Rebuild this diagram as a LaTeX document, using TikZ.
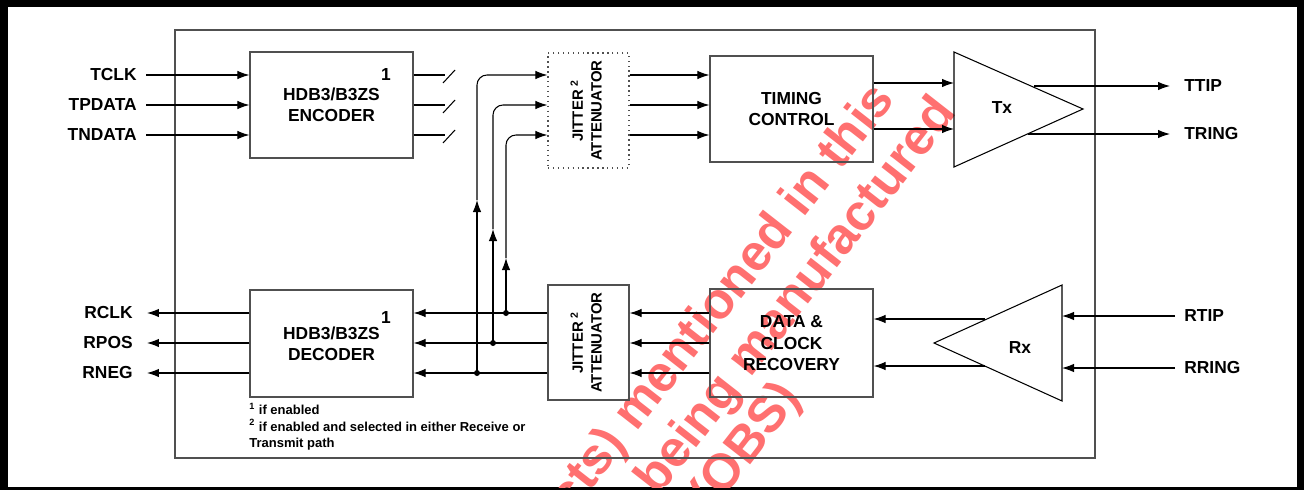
\documentclass[tikz,border=0pt]{standalone}
\usepackage{fontspec}
\setmainfont{Liberation Sans}
\usepackage{graphicx}
\usetikzlibrary{arrows.meta,positioning,calc}
\definecolor{FrameGray}{RGB}{80,80,80}
\definecolor{WaterRed}{RGB}{255,112,112}
\tikzset{
  blk/.style={draw=FrameGray, line width=0.7pt, align=center, font=\fontsize{9.9}{12}\selectfont\bfseries, inner sep=0pt},
  jitbox/.style={blk, font=\fontsize{8.5}{10.6}\selectfont\bfseries, minimum width=1.62cm, minimum height=2.30cm},
  sigtext/.style={font=\fontsize{9.9}{12}\selectfont\bfseries, inner sep=0pt},
  fnote/.style={font=\fontsize{7.4}{9.2}\selectfont\bfseries, align=left, inner sep=0pt},
  arr/.style={-{Latex[length=2.4mm,width=1.7mm]}, line width=0.6pt},
  inarr/.style={arr, shorten <=0.18cm},
  outarr/.style={arr, shorten >=0.28cm},
  wire/.style={line width=0.6pt},
  jdot/.style={circle, fill, inner sep=0pt, minimum size=0.12cm},
  amp/.style={draw, line width=0.6pt},
  wmark/.style={text=WaterRed, font=\fontsize{29}{34}\selectfont\bfseries, inner sep=0pt, rotate=52}
}
\begin{document}
\begin{tikzpicture}[x=0.02cm, y=-0.02cm]
\useasboundingbox (0,0) rectangle (1304,490);
\fill[black] (0,0) rectangle (1304,490);
\fill[white] (8,7) rectangle (1297,487);
% watermark
\begin{scope}
\clip (8,7) rectangle (1297,487);
\node[wmark, anchor=east] (wm1) at (886,92) {cts) mentioned in this};
\node[wmark, anchor=east] (wm2) at (948,105) {r being manufactured};
\node[wmark, anchor=east] (wm3) at (792,390) {(OBS)};
\end{scope}
% chip outline
\draw[FrameGray, line width=0.7pt] (175,30) rectangle (1095,458);
% blocks
\node[blk, minimum width=3.26cm, minimum height=2.12cm] (enc) at (331.5,105) {HDB3/B3ZS\\ENCODER};
\node[blk, minimum width=3.26cm, minimum height=2.14cm] (dec) at (331.5,343.5) {HDB3/B3ZS\\DECODER};
\node[sigtext] (enc1) at (386,75) {1};
\node[sigtext] (dec1) at (386,318) {1};
\node[jitbox, dash pattern=on 0.8pt off 2pt] (jat) at (588.5,110.5) {\rotatebox{90}{\begin{tabular}{@{}c@{}}JITTER \textsuperscript{2}\\ATTENUATOR\end{tabular}}};
\node[jitbox] (jar) at (588.5,342.5) {\rotatebox{90}{\begin{tabular}{@{}c@{}}JITTER \textsuperscript{2}\\ATTENUATOR\end{tabular}}};
\node[blk, minimum width=3.26cm, minimum height=2.12cm] (tc) at (791.5,109) {TIMING\\CONTROL};
\node[blk, minimum width=3.26cm, minimum height=2.16cm, text depth=-0.1cm] (dcr) at (791.5,343) {DATA \&\\CLOCK\\RECOVERY};
% line driver and receiver
\coordinate (txtop) at (954,52);
\coordinate (txbot) at (954,167);
\coordinate (txap) at (1083,109);
\draw[amp] (txtop) -- (txap) -- (txbot) -- cycle;
\node[sigtext] (tx) at (1002,108) {Tx};
\coordinate (rxtop) at (1062,285);
\coordinate (rxbot) at (1062,401);
\coordinate (rxap) at (934,343);
\draw[amp] (rxtop) -- (rxap) -- (rxbot) -- cycle;
\node[sigtext] (rx) at (1020,348) {Rx};
% pins
\node[sigtext, anchor=east] (tclk) at (137,75) {TCLK};
\node[sigtext, anchor=east] (tpdata) at (137,105) {TPDATA};
\node[sigtext, anchor=east] (tndata) at (137,135) {TNDATA};
\node[sigtext, anchor=east] (rclk) at (133,313) {RCLK};
\node[sigtext, anchor=east] (rpos) at (133,343) {RPOS};
\node[sigtext, anchor=east] (rneg) at (133,373) {RNEG};
\node[sigtext, anchor=west] (ttip) at (1184,86) {TTIP};
\node[sigtext, anchor=west] (tring) at (1184,134) {TRING};
\node[sigtext, anchor=west] (rtip) at (1184,316) {RTIP};
\node[sigtext, anchor=west] (rring) at (1184,368) {RRING};
\node[fnote, anchor=north west] (fn) at (249,403) {\textsuperscript{1} if enabled\\\textsuperscript{2} if enabled and selected in either Receive or\\Transmit path};
% transmit side
\draw[inarr] (tclk) -- (tclk -| enc.west);
\draw[inarr] (tpdata) -- (tpdata -| enc.west);
\draw[inarr] (tndata) -- (tndata -| enc.west);
\coordinate (sl1) at (445,75);
\coordinate (sl2) at (445,105);
\coordinate (sl3) at (445,135);
\draw[wire] (enc.east |- sl1) -- (sl1);
\draw[wire] (enc.east |- sl2) -- (sl2);
\draw[wire] (enc.east |- sl3) -- (sl3);
\draw[wire] ([shift={(-2,8)}]sl1) -- ([shift={(10,-5)}]sl1);
\draw[wire] ([shift={(-2,8)}]sl2) -- ([shift={(10,-5)}]sl2);
\draw[wire] ([shift={(-2,8)}]sl3) -- ([shift={(10,-5)}]sl3);
\draw[arr] (jat.east |- sl1) -- (tc.west |- sl1);
\draw[arr] (jat.east |- sl2) -- (tc.west |- sl2);
\draw[arr] (jat.east |- sl3) -- (tc.west |- sl3);
\coordinate (txi1) at (954,83);
\coordinate (txi2) at (954,129);
\draw[arr] (tc.east |- txi1) -- (txi1);
\draw[arr] (tc.east |- txi2) -- (txi2);
\coordinate (txo1) at (1034,86);
\coordinate (txo2) at (1028,134);
\draw[outarr] (txo1) -- (ttip);
\draw[outarr] (txo2) -- (tring);
% receive side
\draw[inarr] (rtip) -- (rtip -| rxtop);
\draw[inarr] (rring) -- (rring -| rxtop);
\coordinate (rxo1) at (985,319);
\coordinate (rxo2) at (985,366);
\draw[arr] (rxo1) -- (dcr.east |- rxo1);
\draw[arr] (rxo2) -- (dcr.east |- rxo2);
\node[jdot] (j1) at (506,313) {};
\node[jdot] (j2) at (493,343) {};
\node[jdot] (j3) at (477,373) {};
\draw[arr] (dcr.west |- j1) -- (jar.east |- j1);
\draw[arr] (dcr.west |- j2) -- (jar.east |- j2);
\draw[arr] (dcr.west |- j3) -- (jar.east |- j3);
\draw[arr] (jar.west |- j1) -- (dec.east |- j1);
\draw[arr] (jar.west |- j2) -- (dec.east |- j2);
\draw[arr] (jar.west |- j3) -- (dec.east |- j3);
\draw[outarr] (dec.west |- j1) -- (rclk);
\draw[outarr] (dec.west |- j2) -- (rpos);
\draw[outarr] (dec.west |- j3) -- (rneg);
% jitter attenuator in transmit path
\coordinate (up1) at (506,258);
\coordinate (up2) at (493,229);
\coordinate (up3) at (477,200);
\draw[arr] (j1.center) -- (up1);
\draw[arr] (j2.center) -- (up2);
\draw[arr] (j3.center) -- (up3);
\draw[arr, rounded corners=0.2cm] (up1) |- (jat.west |- sl3);
\draw[arr, rounded corners=0.2cm] (up2) |- (jat.west |- sl2);
\draw[arr, rounded corners=0.2cm] (up3) |- (jat.west |- sl1);
\end{tikzpicture}
\end{document}
